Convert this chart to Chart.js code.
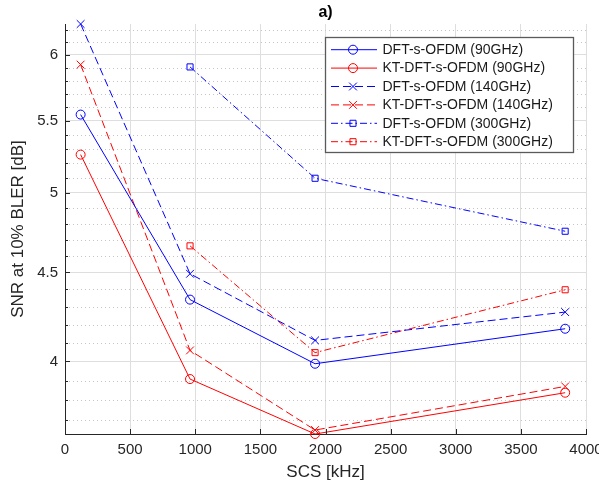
<!DOCTYPE html>
<html>
<head>
<meta charset="utf-8">
<script src="https://cdn.jsdelivr.net/npm/chart.js@4.4.0/dist/chart.umd.min.js"></script>
<style>
  html, body { margin: 0; padding: 0; background: #fff; }
  #wrap { width: 599px; height: 491px; }
</style>
</head>
<body>
<div id="wrap"><canvas id="c" width="599" height="491"></canvas></div>
<script>
// values (SNR in dB at 10% BLER)
const scsKHz = [120, 960, 1920, 3840];
const dft90  = [5.545, 4.341, 3.988, 4.177];
const kt90   = [5.259, 3.908, 3.634, 3.838];
const dft140 = [6.251, 4.492, 4.113, 4.270];
const kt140  = [5.924, 4.059, 3.653, 3.870];
const dft300 = [null, 5.906, 5.097, 4.752];
const kt300  = [null, 4.661, 4.047, 4.398];

const seriesLabels = [
  'DFT-s-OFDM (90GHz)', 'KT-DFT-s-OFDM (90GHz)',
  'DFT-s-OFDM (140GHz)', 'KT-DFT-s-OFDM (140GHz)',
  'DFT-s-OFDM (300GHz)', 'KT-DFT-s-OFDM (300GHz)'
];
const xTicks  = [0, 500, 1000, 1500, 2000, 2500, 3000, 3500, 4000];
const yMajor  = [4, 4.5, 5, 5.5, 6];
const yMinor  = [3.7, 3.8, 3.9, 4.1, 4.2, 4.3, 4.4, 4.6, 4.7, 4.8, 4.9,
                 5.1, 5.2, 5.3, 5.4, 5.6, 5.7, 5.8, 5.9, 6.1, 6.2];

const FONT = "'Liberation Sans', Arial, Helvetica, sans-serif";
const AXIS = '#262626';
const GRID = '#dedede';
const BLUE = '#0000ff';
const RED  = '#ff0000';

const allVals = [].concat(dft90, kt90, dft140, kt140, dft300, kt300).filter(v => v != null);
const yMin = Math.min(...allVals);
const yMax = Math.max(...allVals);

function pts(vals){ return scsKHz.map((x, i) => ({ x: x, y: vals[i] })); }

const solid = [], dashed = [8, 4], dashdot = [7, 3, 1.5, 3];

function ds(i, vals, color, dash, marker, r){
  return {
    label: seriesLabels[i], data: pts(vals),
    borderColor: color, borderWidth: 1, borderDash: dash,
    pointStyle: marker, pointRadius: r, pointHoverRadius: r,
    pointBorderColor: color, pointBorderWidth: 1,
    pointBackgroundColor: 'rgba(0,0,0,0)',
    tension: 0, fill: false, clip: false
  };
}

const datasets = [
  ds(0, dft90,  BLUE, solid,   'circle',   4.5),
  ds(1, kt90,   RED,  solid,   'circle',   4.5),
  ds(2, dft140, BLUE, dashed,  'crossRot', 5.5),
  ds(3, kt140,  RED,  dashed,  'crossRot', 5.5),
  ds(4, dft300, BLUE, dashdot, 'rect',     4.3),
  ds(5, kt300,  RED,  dashdot, 'rect',     4.3)
];

// dotted minor grid + inward tick marks, MATLAB style
const axesDecor = {
  id: 'axesDecor',
  beforeDatasetsDraw(chart){
    const { ctx, chartArea: a, scales } = chart;
    ctx.save();
    ctx.strokeStyle = '#c4c4c4';
    ctx.lineWidth = 1;
    ctx.setLineDash([1, 3]);
    yMinor.forEach(v => {
      const y = Math.round(scales.y.getPixelForValue(v)) + 0.5;
      ctx.beginPath(); ctx.moveTo(a.left, y); ctx.lineTo(a.right, y); ctx.stroke();
    });
    ctx.restore();
  },
  afterDatasetsDraw(chart){
    const { ctx, chartArea: a, scales } = chart;
    ctx.save();
    ctx.strokeStyle = AXIS;
    ctx.lineWidth = 1;
    xTicks.forEach(v => {
      const x = Math.round(scales.x.getPixelForValue(v)) + 0.5;
      ctx.beginPath(); ctx.moveTo(x, a.bottom); ctx.lineTo(x, a.bottom - 5); ctx.stroke();
    });
    yMajor.forEach(v => {
      const y = Math.round(scales.y.getPixelForValue(v)) + 0.5;
      ctx.beginPath(); ctx.moveTo(a.left, y); ctx.lineTo(a.left + 5, y); ctx.stroke();
    });
    yMinor.forEach(v => {
      const y = Math.round(scales.y.getPixelForValue(v)) + 0.5;
      ctx.beginPath(); ctx.moveTo(a.left, y); ctx.lineTo(a.left + 3, y); ctx.stroke();
    });
    ctx.restore();
  }
};

// boxed legend in the upper right corner of the axes
const boxLegend = {
  id: 'boxLegend',
  afterDraw(chart){
    const { ctx, chartArea: a } = chart;
    const w = 248, h = 115;
    const x0 = a.right - 13 - w, y0 = a.top + 13;
    ctx.save();
    ctx.fillStyle = '#fff';
    ctx.fillRect(x0, y0, w, h);
    ctx.strokeStyle = '#5a5a5a';
    ctx.lineWidth = 1.3;
    ctx.strokeRect(x0 + 0.5, y0 + 0.5, w, h);
    chart.data.datasets.forEach((d, i) => {
      const y = y0 + 12.7 + i * 18.4;
      ctx.strokeStyle = d.borderColor;
      ctx.lineWidth = 1;
      ctx.setLineDash(d.borderDash);
      ctx.beginPath(); ctx.moveTo(x0 + 6, y); ctx.lineTo(x0 + 52, y); ctx.stroke();
      ctx.setLineDash([]);
      ctx.fillStyle = 'rgba(0,0,0,0)';
      Chart.helpers.drawPoint(ctx, {
        pointStyle: d.pointStyle, radius: d.pointRadius, rotation: 0, borderWidth: 1
      }, x0 + 28, y);
      ctx.fillStyle = '#1a1a1a';
      ctx.font = '14px ' + FONT;
      ctx.textBaseline = 'middle';
      ctx.textAlign = 'left';
      ctx.fillText(d.label, x0 + 57.5, y + 0.5);
    });
    ctx.restore();
  }
};

new Chart(document.getElementById('c'), {
  type: 'line',
  data: { datasets },
  options: {
    responsive: false,
    animation: false,
    layout: { padding: { top: 0, right: 13, bottom: 0, left: 0 } },
    plugins: {
      legend: { display: false },
      tooltip: { enabled: false },
      title: {
        display: true, text: 'a)', fullSize: false, color: '#000',
        font: { family: FONT, size: 16, weight: 'bold' },
        padding: { top: 3, bottom: 1.8 }
      }
    },
    scales: {
      x: {
        type: 'linear', min: 0, max: 4000,
        afterBuildTicks: s => { s.ticks = xTicks.map(v => ({ value: v })); },
        ticks: { color: AXIS, font: { family: FONT, size: 15 }, padding: 7, maxRotation: 0, autoSkip: false, callback: v => String(v) },
        grid: { color: GRID, lineWidth: 1, drawTicks: false },
        border: { color: AXIS, width: 1 },
        title: { display: true, text: 'SCS [kHz]', color: AXIS, font: { family: FONT, size: 17 }, padding: { top: 0, bottom: 8 } },
        afterFit: s => { s.height = 57; s.paddingLeft = 0; s.paddingRight = 0; }
      },
      y: {
        type: 'logarithmic', min: yMin, max: yMax,
        afterBuildTicks: s => { s.ticks = yMajor.map(v => ({ value: v })); },
        ticks: { color: AXIS, font: { family: FONT, size: 15 }, padding: 7, callback: v => String(v) },
        grid: { color: GRID, lineWidth: 1, drawTicks: false },
        border: { color: AXIS, width: 1 },
        title: { display: true, text: 'SNR at 10% BLER [dB]', color: AXIS, font: { family: FONT, size: 17 }, padding: { top: 8, bottom: 0 } },
        afterFit: s => { s.width = 65; s.paddingTop = 0; s.paddingBottom = 0; }
      }
    }
  },
  plugins: [axesDecor, boxLegend]
});
</script>
</body>
</html>
